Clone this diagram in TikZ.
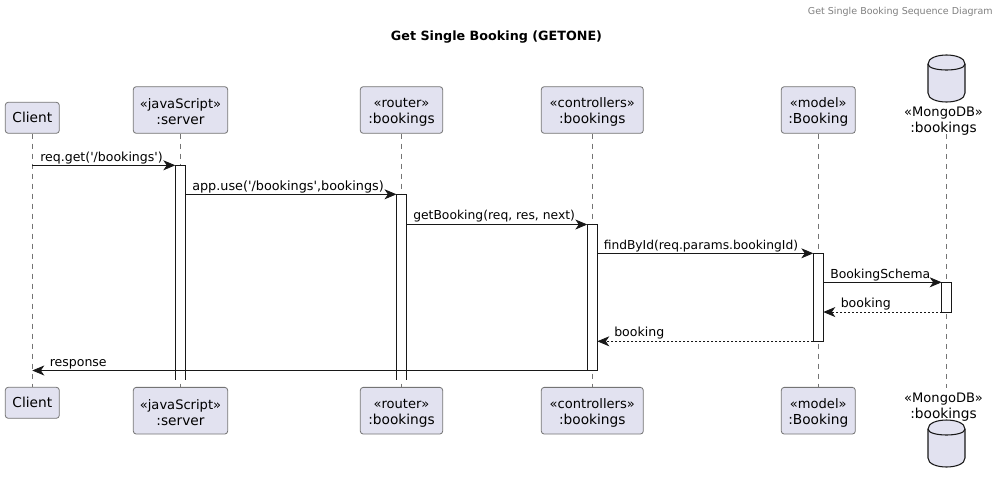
\documentclass[tikz,border=0pt]{standalone}
\usepackage{fontspec}
\setmainfont{DejaVu Sans}
\usetikzlibrary{arrows.meta, positioning}

\definecolor{partfill}{HTML}{E2E2F0}
\definecolor{partline}{HTML}{181818}
\newcommand{\stereo}[2]{\rule{0pt}{10.4pt}\fontsize{9.8}{12}\selectfont #1\\\fontsize{10.3}{12}\selectfont #2}
\tikzset{
  part/.style={draw=partline!60, fill=partfill, rounded corners=2.2pt, line width=0.6pt, align=center, font=\fontsize{10.3}{12}\selectfont, inner sep=0pt, minimum height=#1},
  part/.default=23.25pt,
  store/.style={align=center, font=\fontsize{9.8}{12}\selectfont, inner sep=0pt},
  life/.style={partline!60, line width=0.45pt, dash pattern=on 3.75pt off 3.75pt},
  bar/.style={draw=partline, fill=white, line width=0.6pt, inner sep=0pt, outer sep=0pt, minimum width=7.5pt, anchor=north},
  openbar/.style={bar, draw=none},
  msg/.style={partline, line width=0.6pt, -{Stealth[length=9pt,width=7.5pt,inset=2.6pt]}},
  rmsg/.style={msg, dash pattern=on 1.5pt off 1.5pt},
  lbl/.style={font=\fontsize{#1}{11}\selectfont, inner sep=0pt, anchor=base west, text=black},
  lbl/.default=9.4,
  dbcan/.pic={
    \draw[fill=partfill, draw=partline, line width=0.8pt]
      (-18.5,0) .. controls (-18.5,-12) and (18.5,-12) .. (18.5,0) -- (18.5,29)
      .. controls (18.5,41) and (-18.5,41) .. (-18.5,29) -- cycle;
    \draw[partline, line width=0.8pt] (-18.5,0) .. controls (-18.5,8) and (18.5,8) .. (18.5,0);
  },
}

\begin{document}
\begin{tikzpicture}[x=0.75pt, y=-0.75pt]
  \useasboundingbox (0,0) rectangle (1000,482);

  % Header and title
  \node[font=\fontsize{7.15}{8}\selectfont, text=gray, anchor=base east, inner sep=0pt] (hdr) at (993,14) {Get Single Booking Sequence Diagram};
  \node[font=\bfseries\fontsize{9.55}{11}\selectfont, inner sep=0pt, anchor=base] (title) at (496.5,40) {Get Single Booking (GETONE)};

  % Participants, top row
  \node[part, minimum width=40.5pt] (clientT) at (32.3,117.8) {Client};
  \node[part=35pt, minimum width=70.8pt] (serverT) at (180.5,110) {\stereo{«javaScript»}{:server}};
  \node[part=35pt, minimum width=61.8pt] (routerT) at (401.5,110) {\stereo{«router»}{:bookings}};
  \node[part=35pt, minimum width=76.5pt] (ctrlT) at (592.3,110) {\stereo{«controllers»}{:bookings}};
  \node[part=35pt, minimum width=55.5pt] (modelT) at (818.3,110) {\stereo{«model»}{:Booking}};
  \node[store] (dbT) at (943.5,118.5) {\stereo{«MongoDB»}{:bookings}};
  \pic at (946.5,64) {dbcan};

  % Participants, bottom row
  \node[part, minimum width=40.5pt] (clientB) at (32.3,402.8) {Client};
  \node[part=35pt, minimum width=70.8pt] (serverB) at (180.5,410.7) {\stereo{«javaScript»}{:server}};
  \node[part=35pt, minimum width=61.8pt] (routerB) at (401.5,410.7) {\stereo{«router»}{:bookings}};
  \node[part=35pt, minimum width=76.5pt] (ctrlB) at (592.3,410.7) {\stereo{«controllers»}{:bookings}};
  \node[part=35pt, minimum width=55.5pt] (modelB) at (818.3,410.7) {\stereo{«model»}{:Booking}};
  \node[store] (dbB) at (943.5,405) {\stereo{«MongoDB»}{:bookings}};
  \pic at (946.5,429) {dbcan};

  % Lifelines
  \foreach \p in {client, server, router, ctrl, model} {
    \draw[life] (\p T) -- (\p B);
  }
  \coordinate (dbTop) at (946.7,134);
  \coordinate (dbEnd) at (946.7,388);
  \draw[life] (dbTop) -- (dbEnd);

  % Activation bars
  \node[openbar, minimum height=160.9pt] (serverA) at (180.3,165.3) {};
  \draw[partline, line width=0.6pt] (serverA.south west) -- (serverA.north west) -- (serverA.north east) -- (serverA.south east);
  \node[openbar, minimum height=139.1pt] (routerA) at (401.5,194.3) {};
  \draw[partline, line width=0.6pt] (routerA.south west) -- (routerA.north west) -- (routerA.north east) -- (routerA.south east);
  \node[bar, minimum height=109.5pt] (ctrlA) at (592.3,224.5) {};
  \node[bar, minimum height=66pt] (modelA) at (818.3,253.3) {};
  \node[bar, minimum height=22.3pt] (dbA) at (946.7,282.3) {};

  % Messages
  \draw[msg] (clientT |- serverA.north) -- (serverA.north west);
  \draw[msg] (serverA.north east |- routerA.north) -- (routerA.north west);
  \draw[msg] (routerA.north east |- ctrlA.north) -- (ctrlA.north west);
  \draw[msg] (ctrlA.north east |- modelA.north) -- (modelA.north west);
  \draw[msg] (modelA.north east |- dbA.north) -- (dbA.north west);
  \draw[rmsg] (dbA.south west) -- (modelA.north east |- dbA.south);
  \draw[rmsg] (modelA.south west) -- (ctrlA.north east |- modelA.south);
  \draw[msg] (ctrlA.south west) -- (clientT |- ctrlA.south);

  % Message labels
  \node[lbl] (m1) at (40,161) {req.get(\textquotesingle/bookings\textquotesingle)};
  \node[lbl=9.6] (m2) at (192,190) {app.use(\textquotesingle/bookings\textquotesingle,bookings)};
  \node[lbl=9.25] (m3) at (413,219.5) {getBooking(req, res, next)};
  \node[lbl=9.2] (m4) at (603.5,249) {findById(req.params.bookingId)};
  \node[lbl=9.3] (m5) at (830,278) {BookingSchema};
  \node[lbl] (m6) at (840.5,307) {booking};
  \node[lbl] (m7) at (614,336.5) {booking};
  \node[lbl] (m8) at (49.5,366) {response};
\end{tikzpicture}
\end{document}
